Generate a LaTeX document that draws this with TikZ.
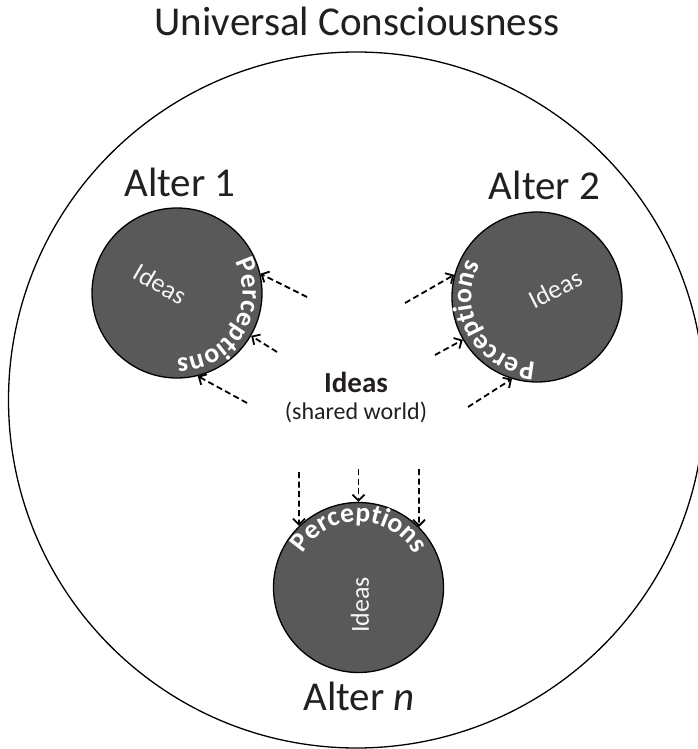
\documentclass[tikz,border=0pt]{standalone}
\usepackage{fontspec}
\setmainfont{Carlito}
\usetikzlibrary{arrows.meta,decorations.text}
\definecolor{circfill}{HTML}{595959}
\definecolor{labtext}{HTML}{231F20}
\newcommand\bigfnt{\fontsize{41}{41}\selectfont}
\newcommand\inidfnt{\fontsize{26}{26}\selectfont}
\newcommand\percfnt{\fontsize{27.5}{27.5}\selectfont\bfseries\color{white}}
\tikzset{
  alter/.style={circle,draw=black,line width=1.3pt,fill=circfill,minimum size=170pt,inner sep=0pt},
  biglabel/.style={anchor=base,text=labtext,font=\bigfnt,inner sep=0pt},
  innerideas/.style={text=white!92!gray,font=\inidfnt,inner sep=0pt},
  flow/.style={line width=1.8pt,dash pattern=on 6pt off 3.5pt,-{Straight Barb[length=6pt,width=12pt]}},
  perc/.style={decorate,decoration={text along path,text align=center,text={|\percfnt|Perceptions}}}
}
\begin{document}
\begin{tikzpicture}[x=1pt,y=1pt]
\useasboundingbox (0,0) rectangle (697,-749);
% universe
\node[circle,draw=black,line width=1.3pt,minimum size=696pt,inner sep=0pt] (uni) at (356.5,-400) {};
\node[biglabel] (title) at (357,-36) {Universal Consciousness};
% alters
\node[alter] (a1) at (177,-293) {};
\node[alter] (a2) at (537,-297) {};
\node[alter] (an) at (358.5,-587.5) {};
\node[biglabel] (l1) at (180,-196) {Alter 1};
\node[biglabel] (l2) at (544.5,-199) {Alter 2};
\node[biglabel] (ln) at (359,-710) {Alter \textit{n}};
% inner ideas
\node[innerideas,rotate=-30] (i1) at (160.5,-284) {Ideas};
\node[innerideas,rotate=27] (i2) at (555.5,-289) {Ideas};
\node[innerideas,rotate=90] (in) at (360,-605) {Ideas};
% perceptions along arcs
\path[perc] ([shift={(59:65.5pt)}]a1.center) arc[start angle=59,end angle=-121,radius=65.5pt];
\path[perc] ([shift={(299.5:65.5pt)}]a2.center) arc[start angle=299.5,end angle=119.5,radius=65.5pt];
\path[perc] ([shift={(179.5:65.5pt)}]an.center) arc[start angle=179.5,end angle=-0.5,radius=65.5pt];
% shared world
\node[anchor=base,text=labtext,font=\fontsize{29}{29}\selectfont\bfseries,inner sep=0pt] (ideas) at (356,-392) {Ideas};
\node[anchor=base,text=labtext,font=\fontsize{24}{24}\selectfont,inner sep=0pt] (shared) at (356,-419) {(shared world)};
% tails
\coordinate (t11) at (307,-297);
\coordinate (t12) at (277,-352);
\coordinate (t13) at (247,-403);
\coordinate (t21) at (405,-303);
\coordinate (t22) at (435,-355);
\coordinate (t23) at (468,-407);
\coordinate (t31) at (299,-472);
\coordinate (t32) at (358.5,-469);
\coordinate (t33) at (419,-469);
% arrows
\draw[flow] (t11) -- (a1.13.5);
\draw[flow] (t12) -- (a1.-30.4);
\draw[flow] (t13) -- (a1.-76);
\draw[flow] (t21) -- (a2.165.6);
\draw[flow] (t22) -- (a2.210.2);
\draw[flow] (t23) -- (a2.253.7);
\draw[flow] (t31) -- (an.134);
\draw[flow] (t32) -- (an.90);
\draw[flow] (t33) -- (an.45);
\end{tikzpicture}
\end{document}
